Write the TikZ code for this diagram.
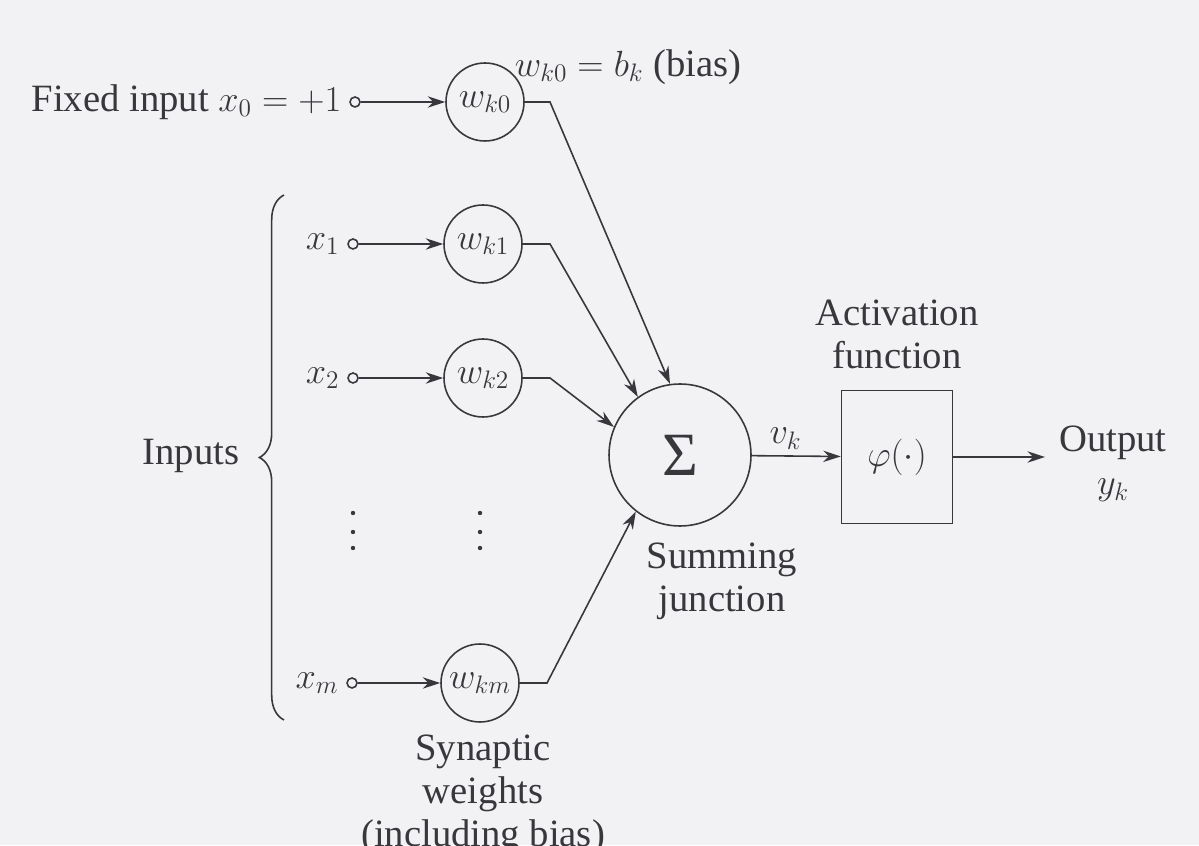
\documentclass[tikz,border=0pt]{standalone}
\usepackage{fontspec}
\setmainfont{Liberation Serif}
\usetikzlibrary{arrows.meta,decorations.pathreplacing}
\definecolor{ink}{RGB}{55,55,60}
\definecolor{paper}{RGB}{242,242,245}

\begin{document}
\begin{tikzpicture}[x=0.02cm,y=0.02cm,draw=ink,text=ink,line width=0.9pt,
    font=\fontsize{22}{24.5}\selectfont,>={Stealth[length=10pt,width=6.5pt]},
    port/.style={circle,draw,minimum size=0.2cm,inner sep=0pt},
    weight/.style={circle,draw,minimum size=1.56cm,inner sep=0pt}]
    \fill[paper] (0,0) rectangle (1199,845);
    \clip (0,0) rectangle (1199,845);

    \node[port] (in0) at (355,743) {};
    \node[port] (in1) at (353,601) {};
    \node[port] (in2) at (353,467) {};
    \node[port] (inm) at (352,162) {};
    \node[anchor=east,inner sep=4pt] (lab0) at (in0.west) {Fixed input $x_0=+1$};
    \node[anchor=east,inner sep=4pt] (lab1) at (in1.west) {$x_1$};
    \node[anchor=east,inner sep=4pt] (lab2) at (in2.west) {$x_2$};
    \node[anchor=east,inner sep=4pt] (labm) at (inm.west) {$x_m$};

    \node[weight] (w0) at (485,743) {$w_{k0}$};
    \node[weight] (w1) at (483,601) {$w_{k1}$};
    \node[weight] (w2) at (483,467) {$w_{k2}$};
    \node[weight] (wm) at (480,162) {$w_{km}$};
    \node (biaslab) at (628,778) {$w_{k0}=b_k$ (bias)};

    \node[circle,draw,minimum size=2.84cm,inner sep=0pt] (sum) at (680,390) {\fontsize{35}{35}\selectfont Σ};
    \node[draw,minimum width=2.22cm,minimum height=2.66cm] (act) at (897,388) {$\varphi(\cdot)$};
    \coordinate (out) at (1045,388);

    \coordinate (b0) at (550,743);
    \coordinate (b1) at (550,601);
    \coordinate (b2) at (550,467);
    \coordinate (bm) at (547,162);

    \draw[->] (in0) -- (w0);
    \draw[->] (in1) -- (w1);
    \draw[->] (in2) -- (w2);
    \draw[->] (inm) -- (wm);
    \draw[->] (w0) -- (b0) -- (sum.98);
    \draw[->] (w1) -- (b1) -- (sum.126);
    \draw[->] (w2) -- (b2) -- (sum.157);
    \draw[->] (wm) -- (bm) -- (sum.232);
    \draw[->] (sum) -- (act) node[pos=0.38,above] (vk) {$v_k$};
    \draw[->] (act) -- (out);

    \foreach \y in {332,313,297} {
        \fill[ink] (353,\y) circle (2.2);
        \fill[ink] (480,\y) circle (2.2);
    }
    \draw[decorate,decoration={brace,amplitude=14pt}] (284,125) -- (284,650);
    \node[anchor=east] (inputs) at (246,389) {Inputs};

    \node[align=center] (actlab) at (897,511) {Activation\\function};
    \node[align=center] (outlab) at (1113,381) {Output\\$y_k$};
    \node[align=center] (sumlab) at (722,264) {Summing\\junction};
    \node[align=center] (synlab) at (483,50) {Synaptic\\weights\\(including bias)};
\end{tikzpicture}
\end{document}
